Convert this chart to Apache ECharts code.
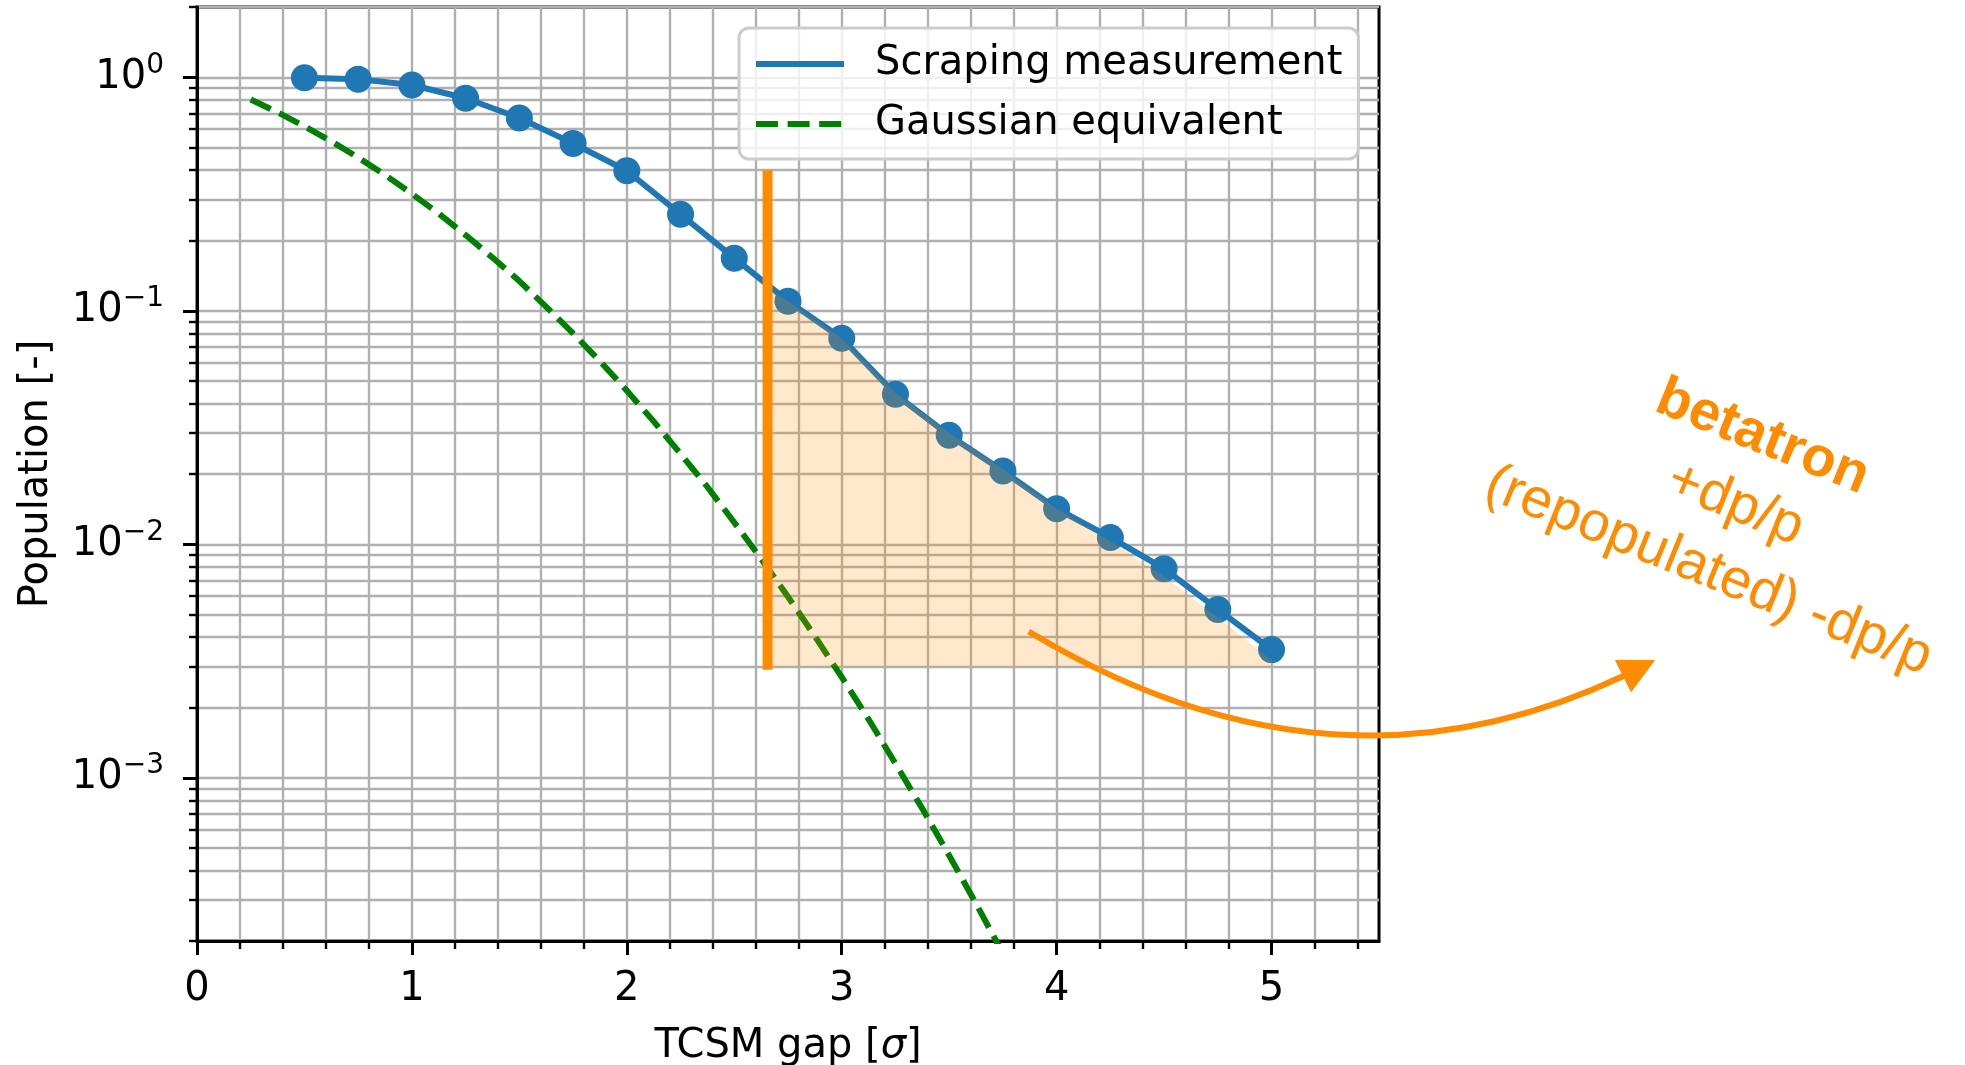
<!DOCTYPE html>
<html>
<head>
<meta charset="utf-8">
<script src="https://cdn.jsdelivr.net/npm/echarts@6/dist/echarts.min.js"></script>
<style>
  html, body { margin: 0; padding: 0; background: #ffffff; }
  #chart { width: 1965px; height: 1065px; }
</style>
</head>
<body>
<div id="chart"></div>
<script>
// Scraping scan: remaining beam population vs. TCSM gap opening
const gapSigma = [0.5, 0.75, 1.0, 1.25, 1.5, 1.75, 2.0, 2.25, 2.5, 2.75, 3.0, 3.25, 3.5, 3.75, 4.0, 4.25, 4.5, 4.75, 5.0];
const population = [0.995, 0.982, 0.927, 0.813, 0.669, 0.521, 0.398, 0.259, 0.168, 0.110, 0.0763, 0.0439, 0.0293, 0.0206, 0.0142, 0.0107, 0.00786, 0.00526, 0.00354];

// Gaussian-beam equivalent
const gaussSigma = [0.25, 0.375, 0.5, 0.625, 0.75, 0.875, 1.0, 1.125, 1.25, 1.375, 1.5, 1.625, 1.75, 1.875, 2.0, 2.125, 2.25, 2.375, 2.5, 2.625, 2.75, 2.875, 3.0, 3.125, 3.25, 3.375, 3.5, 3.625, 3.75];
const gaussPopulation = [0.803, 0.708, 0.617, 0.532, 0.453, 0.382, 0.317, 0.261, 0.211, 0.169, 0.134, 0.104, 0.0801, 0.0608, 0.0455, 0.0336, 0.0244, 0.0176, 0.0124, 0.00866, 0.00596, 0.00404, 0.00270, 0.00178, 0.00115, 0.000738, 0.000465, 0.000289, 0.000177];

// Cut position and the repopulated tail region beyond it
const cutSigma = 2.655;
const cutRange = [0.0029, 0.4];
const shadeSigma = [2.655, 2.75, 3.0, 3.25, 3.5, 3.75, 4.0, 4.25, 4.5, 4.75, 5.0];
const shadeTop = [0.125, 0.110, 0.0763, 0.0445, 0.0300, 0.0210, 0.0142, 0.0103, 0.00728, 0.00487, 0.00318];
const shadeBase = 0.003;

// Axis ticks
const xMajorTicks = [0, 1, 2, 3, 4, 5];
const yMajorTicks = [0.001, 0.01, 0.1, 1];

// Annotation geometry (data coordinates): curved arrow start, control, end; arrow tip; text centre
const arrowCurve = [[3.870, 0.00423], [5.277, 0.000699], [6.637, 0.00273]];
const arrowTip = [6.781, 0.00318];
const labelAnchor = [7.158, 0.01483];
const labelText = '{b|betatron}\n+dp/p\n(repopulated) -dp/p';

const xMinorTicks = [];
for (let i = 1; i <= 27; i++) {
  if (i % 5 !== 0) xMinorTicks.push(Number((i * 0.2).toFixed(1)));
}
const yMinorTicks = [];
for (let e = -4; e <= 0; e++) {
  for (let m = 2; m <= 9; m++) {
    const v = Number((m * Math.pow(10, e)).toPrecision(3));
    if (v >= 2e-4 - 1e-12 && v <= 2 + 1e-12) yMinorTicks.push(v);
  }
}

const FONT = 'DejaVu Sans';
const ORANGE = '#ff8c00';
const BLUE = '#1f77b4';
const GREEN = '#008000';
const GREEN_DASH = [22, 9.6];
const GRID_LINE = { show: true, lineStyle: { color: '#b0b0b0', width: 2.4 } };
const MINUS = '\u2212';

const chart = echarts.init(document.getElementById('chart'), null, { renderer: 'canvas' });

chart.setOption({
  animation: false,
  backgroundColor: '#ffffff',
  textStyle: { fontFamily: FONT },
  grid: {
    left: 197, top: 7, width: 1182, height: 934,
    outerBoundsMode: 'none',
    containLabel: false,
    show: true, borderColor: '#000000', borderWidth: 3, backgroundColor: 'transparent'
  },
  legend: {
    data: [
      { name: 'Scraping measurement', lineStyle: { color: BLUE, width: 6, type: 'solid' } },
      { name: 'Gaussian equivalent', lineStyle: { color: GREEN, width: 6, type: GREEN_DASH, cap: 'butt' } }
    ],
    orient: 'vertical',
    left: 739, top: 28,
    padding: [13, 16, 12, 14],
    itemGap: 14,
    itemWidth: 88,
    itemHeight: 6,
    selectedMode: false,
    backgroundColor: 'rgba(255,255,255,0.8)',
    borderColor: '#cccccc',
    borderWidth: 3,
    borderRadius: 10,
    itemStyle: { opacity: 0 },
    textStyle: { fontFamily: FONT, fontSize: 40, color: '#000000', lineHeight: 46, padding: [0, 0, 0, 26] }
  },
  xAxis: [
    {
      type: 'value', min: 0, max: 5.5, position: 'bottom',
      name: 'TCSM gap [{i|σ}]',
      nameLocation: 'middle', nameGap: 86,
      nameTextStyle: {
        fontFamily: FONT, fontSize: 40, color: '#000000',
        rich: { i: { fontFamily: FONT, fontSize: 40, fontStyle: 'italic', color: '#000000' } }
      },
      axisLine: { show: true, lineStyle: { color: '#000000', width: 3 } },
      axisTick: { show: true, customValues: xMajorTicks, length: 14, lineStyle: { color: '#000000', width: 3 } },
      axisLabel: { show: true, customValues: xMajorTicks, fontFamily: FONT, fontSize: 40, color: '#000000', margin: 29 },
      splitLine: GRID_LINE
    },
    {
      type: 'value', min: 0, max: 5.5, position: 'bottom',
      axisLine: { show: false },
      axisTick: { show: true, customValues: xMinorTicks, length: 8, lineStyle: { color: '#000000', width: 2.4 } },
      axisLabel: { show: false },
      splitLine: GRID_LINE
    }
  ],
  yAxis: [
    {
      type: 'log', logBase: 10, min: 2e-4, max: 2, position: 'left',
      name: 'Population [-]',
      nameLocation: 'middle', nameGap: 140, nameRotate: 90,
      nameTextStyle: { fontFamily: FONT, fontSize: 40, color: '#000000' },
      axisLine: { show: true, lineStyle: { color: '#000000', width: 3 } },
      axisTick: { show: true, customValues: yMajorTicks, length: 14, lineStyle: { color: '#000000', width: 3 } },
      axisLabel: {
        show: true, customValues: yMajorTicks, margin: 33,
        formatter: function (v) {
          const e = Math.round(Math.log10(v));
          const s = String(e).replace('-', MINUS);
          return '{b|10}{s|' + s + '}';
        },
        rich: {
          b: { fontFamily: FONT, fontSize: 40, lineHeight: 52, color: '#000000', verticalAlign: 'middle' },
          s: { fontFamily: FONT, fontSize: 28, lineHeight: 28, color: '#000000', verticalAlign: 'top' }
        }
      },
      splitLine: GRID_LINE
    },
    {
      type: 'log', logBase: 10, min: 2e-4, max: 2, position: 'left',
      axisLine: { show: false },
      axisTick: { show: true, customValues: yMinorTicks, length: 8, lineStyle: { color: '#000000', width: 2.4 } },
      axisLabel: { show: false },
      splitLine: GRID_LINE
    }
  ],
  series: [
    {
      name: 'Scraping measurement',
      type: 'line',
      xAxisIndex: 0, yAxisIndex: 0,
      data: gapSigma.map((x, i) => [x, population[i]]),
      symbol: 'circle', symbolSize: 27, showSymbol: true,
      itemStyle: { color: BLUE },
      lineStyle: { color: BLUE, width: 6 },
      z: 3
    },
    {
      name: 'Gaussian equivalent',
      type: 'line',
      xAxisIndex: 0, yAxisIndex: 0,
      data: gaussSigma.map((x, i) => [x, gaussPopulation[i]]),
      symbol: 'none',
      itemStyle: { color: GREEN },
      lineStyle: { color: GREEN, width: 6, type: GREEN_DASH, cap: 'butt' },
      clip: true,
      z: 2
    },
    {
      name: 'repopulated',
      type: 'custom',
      xAxisIndex: 0, yAxisIndex: 0,
      silent: true,
      data: shadeSigma.map((x, i) => [x, shadeTop[i]]),
      encode: { x: 0, y: 1 },
      renderItem: function (params, api) {
        if (params.dataIndex !== 0) return { type: 'group', children: [] };
        const pts = shadeSigma.map((x, i) => api.coord([x, shadeTop[i]]));
        pts.push(api.coord([shadeSigma[shadeSigma.length - 1], shadeBase]));
        pts.push(api.coord([shadeSigma[0], shadeBase]));
        return { type: 'polygon', shape: { points: pts }, style: { fill: 'rgba(255,140,0,0.2)' } };
      },
      z: 4
    },
    {
      name: 'cut',
      type: 'line',
      xAxisIndex: 0, yAxisIndex: 0,
      data: [[cutSigma, cutRange[0]], [cutSigma, cutRange[1]]],
      symbol: 'none',
      silent: true,
      lineStyle: { color: ORANGE, width: 10, cap: 'butt' },
      z: 5
    }
  ]
});

// Curved arrow and rotated label, positioned from data coordinates
function px(p) { return chart.convertToPixel({ gridIndex: 0 }, p); }
const p0 = px(arrowCurve[0]);
const pc = px(arrowCurve[1]);
const p1 = px(arrowCurve[2]);
const tip = px(arrowTip);
const dx = tip[0] - p1[0], dy = tip[1] - p1[1];
const len = Math.sqrt(dx * dx + dy * dy);
const nx = -dy / len, ny = dx / len;
const half = 17.5;
const lab = px(labelAnchor);

chart.setOption({
  graphic: [
    {
      type: 'bezierCurve', z: 10, silent: true,
      shape: { x1: p0[0], y1: p0[1], cpx1: pc[0], cpy1: pc[1], x2: p1[0], y2: p1[1] },
      style: { stroke: ORANGE, lineWidth: 6, fill: null }
    },
    {
      type: 'polygon', z: 10, silent: true,
      shape: { points: [tip, [p1[0] + nx * half, p1[1] + ny * half], [p1[0] - nx * half, p1[1] - ny * half]] },
      style: { fill: ORANGE, stroke: ORANGE, lineWidth: 1 }
    },
    {
      type: 'text', z: 10, silent: true,
      x: lab[0], y: lab[1],
      rotation: -22 * Math.PI / 180,
      style: {
        text: labelText,
        x: 0, y: 0,
        fill: ORANGE,
        fontFamily: 'Liberation Sans',
        fontSize: 56,
        lineHeight: 72,
        align: 'center',
        verticalAlign: 'middle',
        rich: {
          b: { fontFamily: 'Liberation Sans', fontSize: 56, fontWeight: 'bold', lineHeight: 72, fill: ORANGE }
        }
      }
    }
  ]
});
</script>
</body>
</html>
